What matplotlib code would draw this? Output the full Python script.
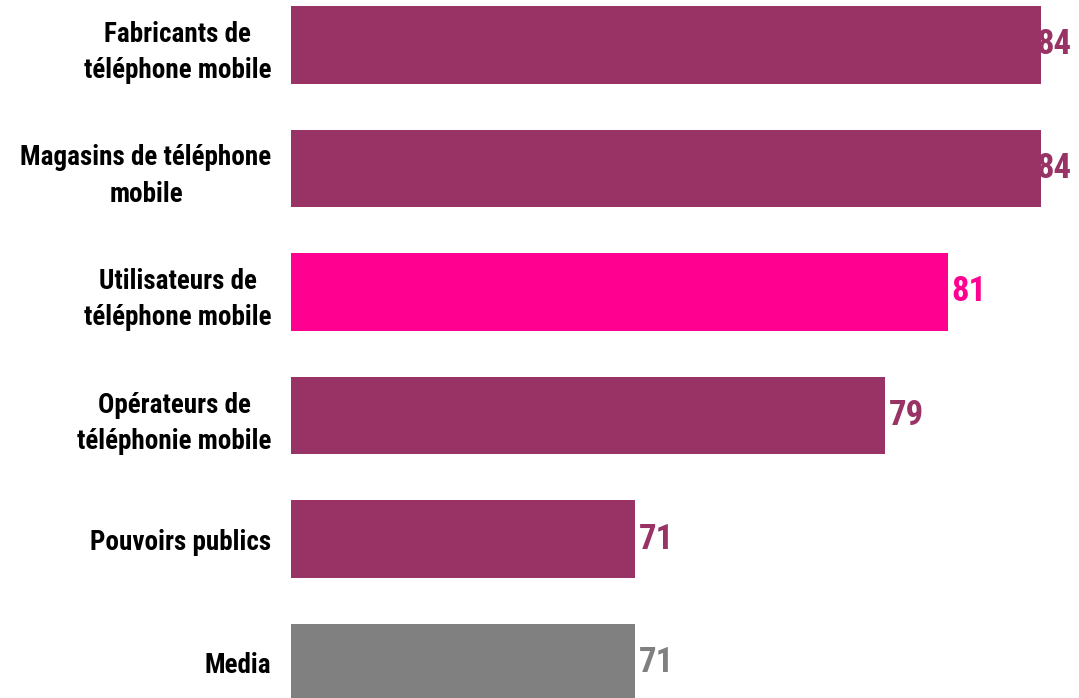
import matplotlib
matplotlib.use("Agg")
import matplotlib.pyplot as plt

categories = [
    "Fabricants de\ntéléphone mobile",
    "Magasins de téléphone\nmobile",
    "Utilisateurs de\ntéléphone mobile",
    "Opérateurs de\ntéléphonie mobile",
    "Pouvoirs publics",
    "Media",
]
values = [84, 84, 81, 79, 71, 71]
colors = ["#993366", "#993366", "#FF0090", "#993366", "#993366", "#808080"]

# police étroite et grasse
plt.rcParams["font.family"] = ["Roboto Condensed", "DejaVu Sans"]

fig = plt.figure(figsize=(10.79, 6.98), dpi=100)
ax = fig.add_axes([291 / 1079, 0, 1 - 291 / 1079, 1])

x_min, x_max = 60, 85.2
ypos = list(range(len(values)))
ax.barh(ypos, [v - x_min for v in values], left=x_min, height=0.63,
        color=colors, zorder=2)

# étiquettes de valeur (ramenées à gauche quand elles sortiraient du cadre)
for y, v, c in zip(ypos, values, colors):
    xt = min(v + 0.12, 83.85)
    ax.text(xt, y, str(v), color=c, fontsize=25, fontweight="bold",
            va="center", ha="left", zorder=1)

ax.set_xlim(x_min, x_max)
ax.set_ylim(5.287, -0.364)
ax.set_yticks(ypos)
ax.set_yticklabels(categories, fontsize=19.5, fontweight="bold",
                   multialignment="center", linespacing=1.45)
ax.tick_params(axis="y", length=0, pad=14)
ax.set_xticks([])
for s in ax.spines.values():
    s.set_visible(False)

fig.savefig("out.png", dpi=100)
